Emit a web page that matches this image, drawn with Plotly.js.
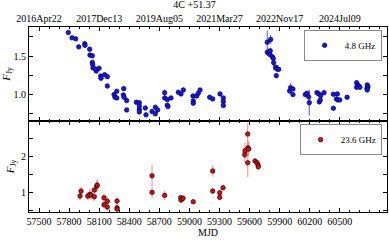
<!DOCTYPE html>
<html><head><meta charset="utf-8">
<script src="https://cdn.plot.ly/plotly-3.0.1.min.js"></script>
<style>html,body{margin:0;padding:0;background:#fff}#c{width:389px;height:243px}</style>
</head><body><div id="c"></div>
<script>
const mjd48 = [57792,57829,57866,57896,57956,57958,58005,58008,58031,58031,58035,58038,58071,58060,58098,58115,58118,58155,58181,58181,58248,58258,58275,58275,58345,58341,58348,58374,58374,58470,58500,58500,58500,58500,58560,58567,58627,58660,58660,58683,58753,58753,58779,58779,58786,58816,58889,58916,58939,59035,59038,59038,59072,59088,59105,59202,59232,59305,59338,59338,59338,59776,59810,59776,59793,59806,59803,59826,59836,59840,59863,59873,59890,59866,59999,60009,60032,60032,60155,60172,60189,60195,60272,60289,60309,60295,60305,60342,60435,60435,60475,60465,60479,60499,60572,60667,60677,60667,60690,60700,60773,60780,60770,60773];
const flux48 = [1.808,1.738,1.725,1.62,1.66,1.64,1.59,1.512,1.503,1.417,1.39,1.347,1.304,1.33,1.339,1.239,1.209,1.256,1.23,1.108,0.995,0.96,1.039,0.952,1.073,0.991,0.961,0.917,0.795,0.895,0.89,0.847,0.804,0.769,0.82,0.73,0.773,0.83,0.743,0.795,1.021,0.952,0.93,0.857,0.838,0.952,1.026,1.004,1.056,0.978,0.913,0.883,0.978,1.013,1.056,0.961,0.939,1.004,0.952,0.904,0.851,1.682,1.717,1.548,1.542,1.568,1.52,1.49,1.469,1.412,1.352,1.33,1.326,1.243,1.043,1.086,1.069,0.995,0.995,1.013,0.965,0.89,1.021,1.004,0.982,0.9,0.926,1.021,1.0,0.817,1.004,0.939,0.926,0.926,0.961,1.151,1.121,1.091,1.108,1.091,1.121,1.099,1.078,1.056];
const err48 = [0.02,0.02,0.02,0.02,0.04,0.03,0.03,0.03,0.03,0.03,0.03,0.03,0.02,0.02,0.02,0.02,0.02,0.02,0.03,0.03,0.02,0.02,0.02,0.02,0.03,0.02,0.02,0.02,0.02,0.02,0.02,0.02,0.02,0.02,0.02,0.02,0.02,0.02,0.02,0.02,0.04,0.02,0.02,0.02,0.02,0.02,0.02,0.02,0.03,0.02,0.02,0.02,0.02,0.02,0.02,0.02,0.02,0.02,0.02,0.02,0.02,0.15,0.06,0.05,0.04,0.04,0.03,0.03,0.03,0.1,0.03,0.03,0.03,0.03,0.03,0.06,0.03,0.02,0.02,0.02,0.03,0.17,0.02,0.02,0.02,0.02,0.02,0.02,0.02,0.02,0.02,0.02,0.02,0.02,0.02,0.03,0.03,0.03,0.03,0.03,0.03,0.03,0.03,0.03];
const mjd236 = [57909,57919,57986,58008,58018,58051,58051,58075,58081,58148,58148,58181,58181,58278,58278,58278,58627,58627,58753,58913,58916,58936,59038,59232,59232,59302,59302,59335,59554,59551,59581,59584,59591,59581,59654,59674,59684,59687];
const flux236 = [0.896,1.036,0.896,0.944,0.924,1.064,0.877,1.176,1.204,0.849,0.653,0.748,0.588,0.756,0.569,0.532,1.465,1.0,0.916,0.849,0.784,0.832,0.737,1.597,1.036,0.99,0.86,1.129,2.165,2.053,2.633,2.249,2.213,1.829,1.877,1.829,1.765,1.717];
const err236 = [0.12,0.12,0.12,0.15,0.12,0.12,0.12,0.15,0.17,0.12,0.1,0.12,0.1,0.12,0.1,0.1,0.3,0.15,0.12,0.08,0.08,0.1,0.06,0.16,0.08,0.08,0.08,0.08,0.23,0.2,0.3,0.2,0.2,0.4,0.08,0.08,0.1,0.08];
const bottomTickVals = [57500,57800,58100,58400,58700,59000,59300,59600,59900,60200,60500];
const topTickVals = [57500,58100,58700,59300,59900,60500];
const topTickText = ['2016Apr22','2017Dec13','2019Aug05','2021Mar27','2022Nov17','2024Jul09'];

const F = 'Liberation Serif, Times New Roman, serif';
const traces = [
 {x: mjd48, y: flux48, xaxis:'x2', yaxis:'y2', mode:'markers', type:'scatter', name:'4.8 GHz', legend:'legend',
  marker:{color:'#1a1acc', size:4.5, line:{color:'#000066', width:0.7}},
  error_y:{type:'data', array: err48, color:'#4455ff', thickness:1, width:0}},
 {x: mjd236, y: flux236, xaxis:'x', yaxis:'y', mode:'markers', type:'scatter', name:'23.6 GHz', legend:'legend2',
  marker:{color:'#cc1111', size:4.5, line:{color:'#220000', width:0.7}},
  error_y:{type:'data', array: err236, color:'rgba(240,90,90,0.6)', thickness:1.2, width:0}}
];
const ax = {showline:true, linecolor:'#000', linewidth:1, mirror:'ticks', ticks:'inside', ticklen:4, tickcolor:'#000', showgrid:false, zeroline:false, tickfont:{family:F, size:10, color:'#000'}};
const layout = {
 width:389, height:243, paper_bgcolor:'#fff', plot_bgcolor:'#fff',
 margin:{l:29, r:2, t:27, b:31},
 font:{family:F, size:10, color:'#000'},
 showlegend:true,
 title:{text:'4C +51.37', font:{family:F, size:10, color:'#000'}, x:0.5, xref:'container', y:0.995, yref:'container', yanchor:'top'},
 xaxis: Object.assign({}, ax, {domain:[0,1], range:[57400,60970], anchor:'y', tickmode:'array', tickvals:bottomTickVals, tickformat:'d',
   minor:{dtick:100, tick0:57500, ticklen:2, ticks:'inside', tickcolor:'#000'},
   title:{text:'MJD', font:{family:F, size:10}, standoff:2}}),
 yaxis: Object.assign({}, ax, {domain:[0,0.492], range:[0.45,3.0], anchor:'x', tickmode:'array', tickvals:[1,2],
   minor:{tickmode:'array', tickvals:[0.5,1.5,2.5], ticklen:4, ticks:'inside', tickcolor:'#000'},
   title:{text:'<i>F</i><sub>Jy</sub>', font:{family:F, size:11}, standoff:4}}),
 xaxis2: Object.assign({}, ax, {domain:[0,1], range:[57400,60970], anchor:'y2', side:'top', tickmode:'array', tickvals:topTickVals, ticktext:topTickText,
   minor:{dtick:100, tick0:57500, ticklen:2, ticks:'inside', tickcolor:'#000'}}),
 yaxis2: Object.assign({}, ax, {domain:[0.492,1], range:[0.65,1.88], anchor:'x2', tickmode:'array', tickvals:[1.0,1.5], ticktext:['1.0','1.5'],
   minor:{tickmode:'array', tickvals:[0.75,1.25,1.75], ticklen:4, ticks:'inside', tickcolor:'#000'},
   title:{text:'<i>F</i><sub>Jy</sub>', font:{family:F, size:11}, standoff:4}}),
 legend:{x:0.985, y:0.985, xref:'paper', yref:'paper', xanchor:'right', yanchor:'top', bordercolor:'#888', borderwidth:1, bgcolor:'#fff', font:{family:F, size:9}, itemwidth:30, tracegroupgap:0},
 legend2:{x:0.985, y:0.475, xref:'paper', yref:'paper', xanchor:'right', yanchor:'top', bordercolor:'#888', borderwidth:1, bgcolor:'#fff', font:{family:F, size:9}, itemwidth:30, tracegroupgap:0}
};
Plotly.newPlot('c', traces, layout, {staticPlot:true, displayModeBar:false});
</script></body></html>
